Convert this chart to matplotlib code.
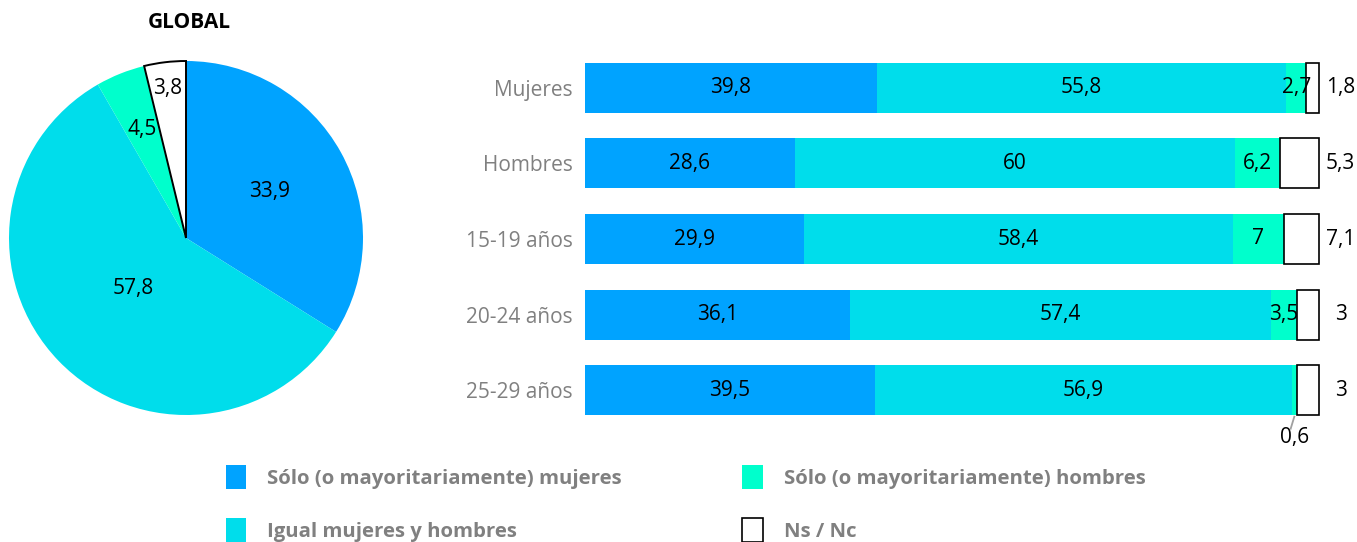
import matplotlib
matplotlib.use("Agg")
import matplotlib.pyplot as plt
from matplotlib.patches import Patch
import numpy as np

plt.rcParams.update({
    "font.family": ["Open Sans", "DejaVu Sans"],
})

# ── data ─────────────────────────────────────────────
series = ["Sólo (o mayoritariamente) mujeres", "Igual mujeres y hombres",
          "Sólo (o mayoritariamente) hombres", "Ns / Nc"]
colors = ["#00A3FF", "#00DDEB", "#00FFCC", "#FFFFFF"]

pie_vals = [33.9, 57.8, 4.5, 3.8]
pie_lbl_r = [0.54, 0.41, 0.66, 0.85]

groups = ["Mujeres", "Hombres", "15-19 años", "20-24 años", "25-29 años"]
solo_muj = [39.8, 28.6, 29.9, 36.1, 39.5]
igual    = [55.8, 60.0, 58.4, 57.4, 56.9]
solo_hom = [2.7, 6.2, 7.0, 3.5, 0.6]
ns_nc    = [1.8, 5.3, 7.1, 3.0, 3.0]

def fmt(v):
    s = f"{v:.1f}"
    if s.endswith(".0"):
        s = s[:-2]
    return s.replace(".", ",")

W, H = 1357, 542
fig = plt.figure(figsize=(W / 100, H / 100), dpi=100)

def px_axes(x0, y0, x1, y1):
    return fig.add_axes([x0 / W, 1 - y1 / H, (x1 - x0) / W, (y1 - y0) / H])

VAL_FS = 15
CAT_FS = 15
LEG_FS = 14.7

# ── pie ──────────────────────────────────────────────
ax_p = px_axes(9, 61, 363, 415)
wedges, _ = ax_p.pie(pie_vals, colors=colors, startangle=90, counterclock=False,
                     radius=1.0, wedgeprops=dict(linewidth=0))
wedges[3].set_edgecolor("black")
wedges[3].set_linewidth(1.4)
for w, v, r in zip(wedges, pie_vals, pie_lbl_r):
    ang = np.deg2rad((w.theta1 + w.theta2) / 2)
    ax_p.text(r * np.cos(ang), r * np.sin(ang), fmt(v), ha="center", va="center",
              fontsize=VAL_FS, fontweight="medium", color="black")
ax_p.set_xlim(-1, 1); ax_p.set_ylim(-1, 1)
ax_p.set_aspect("equal")
ax_p.axis("off")
fig.text(189 / W, 1 - 22 / H, "GLOBAL", ha="center", va="center",
         fontsize=15, fontweight="bold", color="black")

# ── stacked bars ─────────────────────────────────────
ax_b = px_axes(585, 50, 1320, 428)
y = np.arange(len(groups))
h = 0.66
left = np.zeros(len(groups))
for vals, col in zip([solo_muj, igual, solo_hom], colors[:3]):
    vals = np.array(vals)
    ax_b.barh(y, vals, left=left, height=h, color=col, linewidth=0)
    for yi, l, v in zip(y, left, vals):
        if v >= 1:
            ax_b.text(l + v / 2, yi, fmt(v), ha="center", va="center",
                      fontsize=VAL_FS, fontweight="medium")
        else:
            ax_b.plot([l + v / 2, l + v / 2 - 0.5], [yi + h / 2 + 0.02, yi + h / 2 + 0.18],
                      color="#A0A0A0", lw=1.3, clip_on=False)
            ax_b.text(l + v / 2, yi + 0.63, fmt(v), ha="center", va="center",
                      fontsize=VAL_FS, fontweight="medium", clip_on=False)
    left = left + vals
ns = np.minimum(np.array(ns_nc), 100 - left)
ax_b.barh(y, ns, left=left, height=h, color=colors[3], edgecolor="black", linewidth=1.2)
for yi, v in zip(y, ns_nc):
    ax_b.text(103, yi, fmt(v), ha="center", va="center", fontsize=VAL_FS,
              fontweight="medium", clip_on=False)

ax_b.set_xlim(0, 100.2)
ax_b.set_ylim(len(groups) - 0.5, -0.5)
ax_b.set_yticks(y)
ax_b.set_yticklabels(groups, fontsize=CAT_FS, color="#808080")
ax_b.tick_params(axis="y", length=0, pad=9)
ax_b.set_xticks([])
for s in ax_b.spines.values():
    s.set_visible(False)

# ── legend ───────────────────────────────────────────
handles = [Patch(facecolor=colors[i], edgecolor="black" if i == 3 else colors[i],
                 linewidth=1.2 if i == 3 else 0) for i in [0, 1, 2, 3]]
labels = [series[i] for i in [0, 1, 2, 3]]
leg = fig.legend(handles, labels, ncol=2, loc="upper left",
                 bbox_to_anchor=(208 / W, 1 - 447 / H), frameon=False,
                 handlelength=0.98, handleheight=1.37, handletextpad=1.03,
                 columnspacing=5.9, labelspacing=1.45,
                 prop=dict(size=LEG_FS, weight="bold"))
for t in leg.get_texts():
    t.set_color("#808080")

fig.savefig("out.png", dpi=100)
